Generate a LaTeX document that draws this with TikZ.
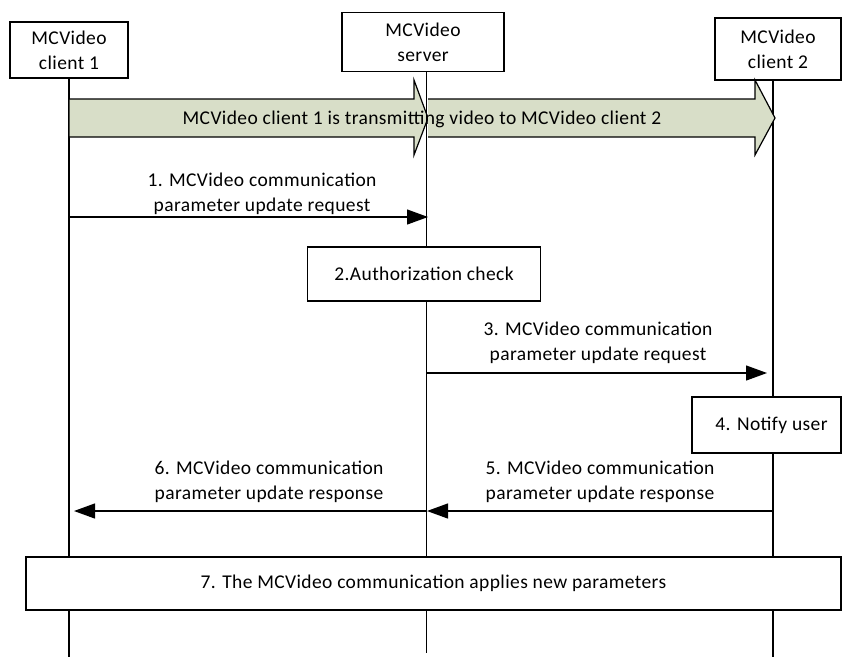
\documentclass[tikz,border=0pt]{standalone}
\usepackage{fontspec}
\setmainfont{Carlito}[LetterSpace=2]
\usetikzlibrary{arrows.meta}
\definecolor{flowfill}{RGB}{216,222,200}
\begin{document}
\begin{tikzpicture}[x=1pt,y=-1pt,
  txt/.style={font=\fontsize{19.5}{25}\selectfont,align=center,inner sep=0pt},
  box/.style={txt,draw,line width=1.3pt,fill=white},
  life/.style={line width=1.3pt},
  thinlife/.style={line width=0.9pt},
  msg/.style={line width=1.2pt,-{Triangle[length=21pt,width=15pt]}},
  flow/.style={draw,line width=1.2pt,fill=flowfill}]
\useasboundingbox (0,0) rectangle (843,657);
% headers
\node[box,minimum width=118pt,minimum height=56pt] (c1) at (69,50) {MCVideo\\client 1};
\node[box,minimum width=162pt,minimum height=59pt] (srv) at (423,42) {MCVideo\\server};
\node[box,minimum width=126pt,minimum height=62pt] (c2) at (778,49) {MCVideo\\client 2};
% lifeline ends
\coordinate (c1e) at (69,657);
\coordinate (srve) at (426,653);
\coordinate (c2e) at (773,657);
\draw[life] (c1.south) -- (c1e);
\draw[thinlife] (426,0 |- srv.south) -- (srve);
\draw[life] (773,0 |- c2.south) -- (c2e);
% big flow arrows
\draw[flow] (69,99) -- (414,99) -- (414,80) -- (428,118) -- (414,155) -- (414,137) -- (69,137) -- cycle;
\draw[flow] (428,99) -- (755,99) -- (755,80) -- (775,118) -- (755,155) -- (755,137) -- (428,137);
\draw[thinlife] (426,80) -- (426,155);
\node[txt] (flowtxt) at (422,119) {MCVideo client 1 is transmitting video to MCVideo client 2};
% message 1
\coordinate (m1a) at (69,217);
\coordinate (m1b) at (428,217);
\draw[msg] (m1a) -- (m1b);
\node[txt,anchor=south] (m1t) at (262,215) {1. MCVideo communication\\parameter update request};
% box 2
\node[box,minimum width=233pt,minimum height=54pt] (b2) at (424,274) {2.Authorization check};
% message 3
\coordinate (m3a) at (426,373);
\coordinate (m3b) at (767,373);
\draw[msg] (m3a) -- (m3b);
\node[txt,anchor=south] (m3t) at (598,364) {3. MCVideo communication\\parameter update request};
% box 4
\node[box,minimum width=149pt,minimum height=56pt] (b4) at (766.5,425) {\hspace*{10pt}4. Notify user};
% message 5
\coordinate (m5a) at (773,511);
\coordinate (m5b) at (427,511);
\draw[msg] (m5a) -- (m5b);
\node[txt,anchor=south] (m5t) at (600,503) {5. MCVideo communication\\parameter update response};
% message 6
\coordinate (m6a) at (426,511);
\coordinate (m6b) at (74,511);
\draw[msg] (m6a) -- (m6b);
\node[txt,anchor=south] (m6t) at (269,503) {6. MCVideo communication\\parameter update response};
% box 7
\node[box,minimum width=815pt,minimum height=53pt] (b7) at (433.5,583.5) {7. The MCVideo communication applies new parameters};
\end{tikzpicture}
\end{document}
